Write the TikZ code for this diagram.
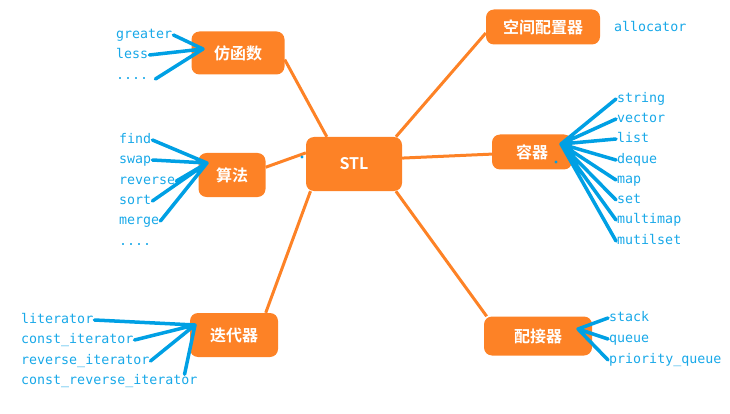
\documentclass[tikz,border=0pt]{standalone}
\usepackage{fontspec}
\setmonofont{DejaVu Sans Mono}
\newfontfamily\cjk{Noto Sans CJK SC Bold}
\usepackage{tikz}
\definecolor{stlorange}{RGB}{253,130,38}
\definecolor{itemblue}{RGB}{24,168,232}
\definecolor{lineblue}{RGB}{0,160,228}

\begin{document}
\begin{tikzpicture}[x=1pt,y=-1pt]
\tikzstyle{box}=[fill=stlorange,rounded corners=8pt,text=white,inner sep=0pt,font=\cjk\fontsize{16}{16}\selectfont];
\tikzstyle{item}=[anchor=west,text=itemblue,inner sep=1pt,text height=9pt,text depth=2pt,font=\ttfamily\fontsize{13.3}{14}\selectfont];
\tikzstyle{branch}=[draw=stlorange,line width=3pt];
\tikzstyle{leaf}=[draw=lineblue,line width=3.5pt,line cap=round];
\useasboundingbox (0,0) rectangle (730,414);

\node[box,minimum width=96pt,minimum height=54pt] (stl) at (354,164) {STL\hspace{10pt}};
\node[box,minimum width=93pt,minimum height=43pt] (fanghan) at (238,53) {仿函数\hspace{18pt}};
\node[box,minimum width=67pt,minimum height=44pt] (suanfa) at (232,175) {算法};
\node[box,minimum width=114pt,minimum height=35pt] (kongjian) at (543,27) {空间配置器};
\node[box,minimum width=80pt,minimum height=35pt] (rongqi) at (532,152) {容器\hspace{20pt}};
\node[box,minimum width=88pt,minimum height=44pt] (diedai) at (234,335) {迭代器\hspace{10pt}};
\node[box,minimum width=108pt,minimum height=39pt] (peijie) at (538,336) {配接器\hspace{8pt}};

\draw[branch] (stl.135) -- (fanghan.-8);
\draw[branch] (stl.33) -- (kongjian.186);
\draw[branch] (stl.167) -- (suanfa.13);
\draw[branch] (stl.7) -- (rongqi.183);
\draw[branch] (stl.212) -- (diedai.35);
\draw[branch] (stl.-33) -- (peijie.159);

\node[item] (greater) at (115,35) {greater};
\node[item] (less) at (115,55) {less};
\node[item] (fdots) at (115,76) {....};

\node[item] (find) at (118,140) {find};
\node[item] (swap) at (118,160) {swap};
\node[item] (reverse) at (118,181) {reverse};
\node[item] (sort) at (118,201) {sort};
\node[item] (merge) at (118,221) {merge};
\node[item] (sdots) at (118,242) {....};

\node[item] (allocator) at (613,28) {allocator};

\node[item] (string) at (616,99) {string};
\node[item] (vector) at (616,119) {vector};
\node[item] (list) at (616,139) {list};
\node[item] (deque) at (616,160) {deque};
\node[item] (map) at (616,180) {map};
\node[item] (set) at (616,200) {set};
\node[item] (multimap) at (616,220) {multimap};
\node[item] (mutilset) at (616,241) {mutilset};

\node[item] (literator) at (20,320) {literator};
\node[item] (citer) at (20,340) {const\_iterator};
\node[item] (riter) at (20,361) {reverse\_iterator};
\node[item] (criter) at (20,381) {const\_reverse\_iterator};

\node[item] (stack) at (608,318) {stack};
\node[item] (queue) at (608,339) {queue};
\node[item] (pqueue) at (608,360) {priority\_queue};

\coordinate (fhub) at (203,49);
\coordinate (shub) at (207,163);
\coordinate (rhub) at (561,144);
\coordinate (dhub) at (195,325);
\coordinate (phub) at (578,329);

\draw[leaf] (fhub) -- (greater.east) (fhub) -- (less.east) (fhub) -- ([xshift=6pt,yshift=-3pt]fdots.east);
\draw[leaf] (shub) -- (find.east) (shub) -- (swap.east) (shub) -- (reverse.east)
  (shub) -- (sort.east) (shub) -- (merge.east);
\draw[leaf] (rhub) -- (string.west) (rhub) -- (vector.west) (rhub) -- (list.west)
  (rhub) -- (deque.west) (rhub) -- (map.west) (rhub) -- (set.west)
  (rhub) -- (multimap.west) (rhub) -- (mutilset.west);
\draw[leaf] (dhub) -- (literator.east) (dhub) -- (citer.east) (dhub) -- (riter.east)
  (dhub) -- ([xshift=-14pt]criter.north east);
\draw[leaf] (phub) -- (stack.west) (phub) -- (queue.west) (phub) -- (pqueue.west);

\fill[lineblue] (302,157) circle (1.6pt);
\fill[lineblue] (556,162) circle (1.6pt);
\end{tikzpicture}
\end{document}
